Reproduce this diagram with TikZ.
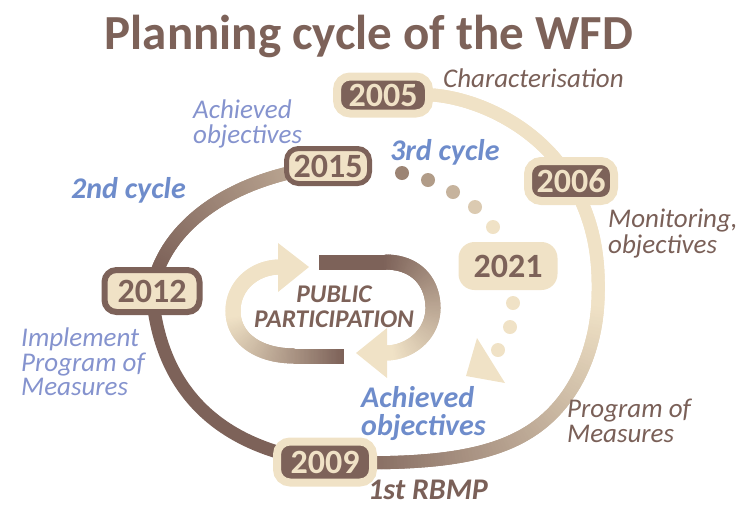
\documentclass[tikz,border=0pt]{standalone}
\usepackage{fontspec}
\setmainfont{Carlito}
\usetikzlibrary{decorations.markings}
\definecolor{dbrown}{HTML}{7D6259}
\definecolor{cream}{HTML}{F0E2C6}
\definecolor{tanc}{HTML}{BBA692}
\definecolor{dotbrown}{HTML}{9C8474}
\definecolor{lbrown}{HTML}{7A6058}
\definecolor{blueB}{HTML}{6E8CCB}
\definecolor{blueL}{HTML}{8593CE}
\pgfdeclarelayer{bg}
\pgfsetlayers{bg,main}
\newcommand\mlines[1]{\begin{tabular}[t]{@{}l@{}}#1\end{tabular}}
\newcommand\clines[1]{\begin{tabular}[t]{@{}c@{}}#1\end{tabular}}
\tikzset{
 gstroke/.style n args={5}{postaction={decorate,decoration={markings,
   mark=between positions 0 and 1 step 0.6pt with {%
     \pgfmathsetmacro\gf{\pgfkeysvalueof{/pgf/decoration/mark info/distance from start}/\pgfdecoratedpathlength}%
     \pgfmathtruncatemacro\gp{max(0,min(100,100*(\gf-#4)/(#5-#4)))}%
     \fill[#2!\gp!#1] (-0.7pt,-#3) rectangle (0.7pt,#3);}}}},
 yearD/.style={draw=cream, fill=dbrown, text=cream, line width=8pt, rounded corners=13pt,
   font=\fontsize{34}{34}\selectfont\bfseries, inner sep=0pt},
 yearL/.style={draw=dbrown, fill=cream, text=dbrown, rounded corners=12pt,
   font=\fontsize{34}{34}\selectfont\bfseries, inner sep=0pt},
 yearF/.style={fill=cream, text=dbrown, rounded corners=16pt,
   font=\fontsize{34}{34}\selectfont\bfseries, inner sep=0pt},
 lab/.style={font=\fontsize{27}{25}\selectfont\itshape, text=lbrown, inner sep=0pt, anchor=base west},
 labB/.style={font=\fontsize{30}{25}\selectfont\bfseries\itshape, text=lbrown, inner sep=0pt, anchor=base west},
 blueL/.style={font=\fontsize{27}{23.5}\selectfont\itshape, text=blueL, inner sep=0pt, anchor=base west},
 blueB/.style={font=\fontsize{30}{25}\selectfont\bfseries\itshape, text=blueB, inner sep=0pt, anchor=base west},
 ring/.style={line width=13pt},
}
\begin{document}
\begin{tikzpicture}[x=1pt,y=-1pt]
\useasboundingbox (0,0) rectangle (738,507);
% title
\node[font=\fontsize{49}{50}\selectfont\bfseries, text=dbrown, inner sep=0pt, anchor=base] (title) at (369,49) {Planning cycle of the WFD};
% year boxes
\node[yearD, minimum width=92pt, minimum height=37pt] (y2005) at (383,95) {2005};
\node[yearD, minimum width=86pt, minimum height=40pt] (y2006) at (571,181) {2006};
\node[yearD, minimum width=96pt, minimum height=41pt] (y2009) at (325,462) {2009};
\node[yearL, minimum width=83pt, minimum height=35pt, line width=5pt] (y2015) at (328,166) {2015};
\node[yearL, minimum width=95pt, minimum height=42pt, line width=6pt] (y2012) at (152,291) {2012};
\node[yearF, minimum width=99pt, minimum height=48pt] (y2021) at (508,266) {2021};
\begin{pgfonlayer}{bg}
% outer ring 2005 -> 2006 -> 2009
\path[gstroke={cream}{dbrown}{6.5pt}{0.45}{0.97}] (y2005.east) .. controls (480,99) and (540,128) .. (y2006.center)
   .. controls (591,216) and (600,250) .. (598,300)
   .. controls (596,350) and (575,400) .. (535,428)
   .. controls (490,460) and (420,465) .. (y2009.center);
% 2009 -> 2012
\draw[ring, dbrown] (y2009.center) .. controls (230,450) and (160,400) .. (y2012.center);
% 2012 -> 2015
\path[gstroke={dbrown}{tanc}{6.5pt}{0.1}{0.85}] (y2012.center) .. controls (162,230) and (225,178) .. (y2015.center);
\end{pgfonlayer}
% dotted third cycle
\fill[dotbrown] (402,173) circle (7pt);
\fill[cream!25!dotbrown] (428,180) circle (7pt);
\fill[cream!50!dotbrown] (453,192) circle (7pt);
\fill[cream!75!dotbrown] (475,207) circle (7pt);
\fill[cream] (493,227) circle (7pt);
\fill[cream] (513,303) circle (7pt);
\fill[cream] (510,327) circle (7pt);
\fill[cream] (498,350) circle (7pt);
\fill[cream] (477,338) -- (466,376) -- (505,383) -- cycle;
% public participation arrows
\path[gstroke={dbrown}{cream}{7.5pt}{0}{0.62}] (343,356) -- (295,356) .. controls (255,356) and (233,336) .. (233,311)
   .. controls (233,285) and (255,267) .. (280,267);
\fill[cream] (278,243) -- (278,292) -- (309,267) -- cycle;
\path[gstroke={dbrown}{cream}{7.5pt}{0.3}{0.97}] (320,262) -- (385,262) .. controls (418,262) and (433,284) .. (433,308)
   .. controls (433,333) and (412,352) .. (387,353);
\fill[cream] (387,328) -- (387,378) -- (356,353) -- cycle;
\node[labB, anchor=base, text=dbrown, font=\fontsize{25.5}{25}\selectfont\bfseries\itshape] (pp) at (334,302) {\clines{PUBLIC\\PARTICIPATION}};
% labels
\node[lab] (lchar) at (443,87) {Characterisation};
\node[lab] (lmon) at (608,227) {\mlines{Monitoring,\\objectives}};
\node[lab] (lprog) at (567,417) {\mlines{Program of\\Measures}};
\node[labB] (lrbmp) at (368,499) {1st RBMP};
\node[blueL, font=\fontsize{27}{24}\selectfont\itshape] (lach1) at (193,118) {\mlines{Achieved\\objectives}};
\node[blueB] (l2nd) at (71,198) {2nd cycle};
\node[blueB] (l3rd) at (390,160) {3rd cycle};
\node[blueL] (limp) at (21,346) {\mlines{Implement\\Program of\\Measures}};
\node[blueB] (lach2) at (361,407) {\mlines{Achieved\\objectives}};
\end{tikzpicture}
\end{document}
